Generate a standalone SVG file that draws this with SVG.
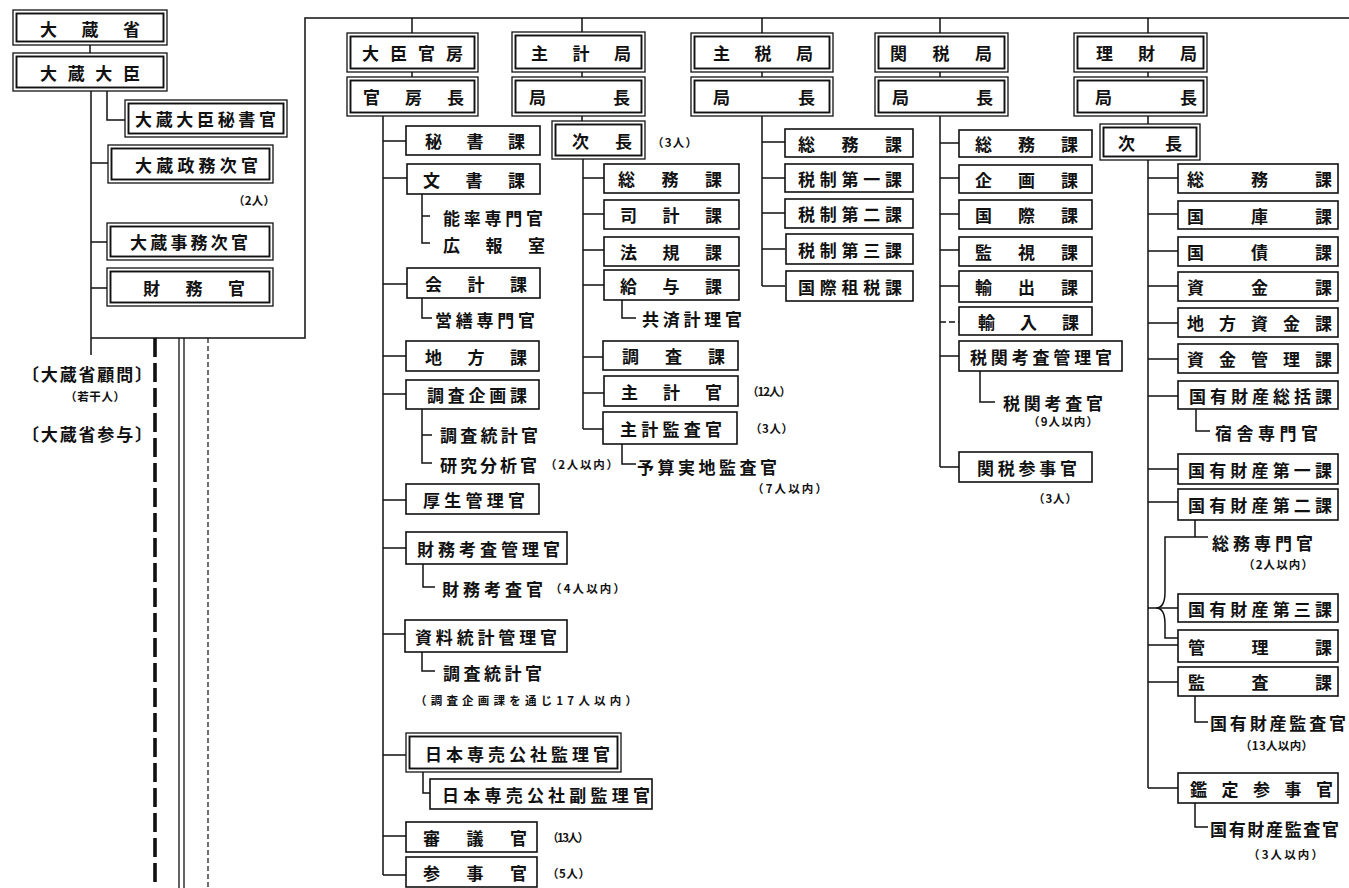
<svg xmlns="http://www.w3.org/2000/svg" width="1349" height="888" viewBox="0 0 1349 888">
<style>
rect{fill:#fff;stroke:#111}
.b{stroke-width:1.6}
.o{stroke-width:1.3}
.i{fill:none;stroke-width:1.9}
text{font-family:"Noto Sans CJK JP","Noto Sans CJK SC",sans-serif;font-weight:700;fill:#111;dominant-baseline:central;font-size:17px}
.s{font-size:11.5px}
.ln path{fill:none;stroke:#111;stroke-width:1.5}
</style>
<rect x="0" y="0" width="1349" height="888" style="fill:#fff;stroke:none"/>
<g class="ln" id="connectors">
<path d="M90 45V53M91 91V355M107 91V120H125M91 163H108M91 242H107M91 288H107M91 338H305V18H1349"/>
<path d="M412 18V33M582 18V32M762 18V33M940 18V33M1148 18V33M412 72V77M582 72V77M762 72V77M940 72V77M1148 72V77"/>
<path d="M383 116V875M383 141H406M383 178H407M383 284H407M383 356H406M383 394H406M383 500H406M383 548H406M383 634H405M383 755H406M383 836H406M383 875H406"/>
<path d="M422 194V243H430M422 216H430M422 298V318H432M422 409V463H432M422 435H432M423 564V587H435M422 652V671H435M423 772V793H430"/>
<path d="M582 116V121M583 159V429M583 178H604M583 214H604M583 250H604M583 285H604M583 357H603M583 393H604M583 429H603M622 300V318H636M622 444V464H636"/>
<path d="M762 116V286M762 142H785M762 178H785M762 213H785M762 249H785M762 286H785"/>
<path d="M940 116V467M940 143H959M940 178H959M940 214H959M940 250H959M940 286H959M940 356H959M940 467H959M980 371V402H995"/>
<path d="M940 322H959" style="stroke-dasharray:6 3"/>
<path d="M1148 116V124M1148 160V788M1148 178H1178M1148 214H1178M1148 251H1178M1148 286H1178M1148 323H1178M1148 359H1178M1148 396H1178M1148 469H1178M1148 502H1178M1148 608H1178M1148 645H1178M1148 682H1178M1148 788H1178"/>
<path d="M1196 409V431H1210M1195 520V537M1208 537H1165V592Q1165 608 1156 608Q1165 608 1165 624V638H1178M1195 696V722H1208M1195 803V827H1208"/>
<path d="M155 338V888" style="stroke-width:3.6;stroke-dasharray:19 6"/>
<path d="M179 338V888M184 338V888" style="stroke-width:1.3"/>
<path d="M208 338V888" style="stroke-width:1.2;stroke-dasharray:5 3"/>
</g>
<g id="n-okurasho"><rect class="o" x="13" y="10" width="154" height="35"/><rect class="i" x="16.5" y="13.5" width="147" height="28"/><text x="40" y="28" textLength="100" lengthAdjust="spacing">大蔵省</text></g>
<g id="n-daijin"><rect class="o" x="13" y="53" width="154" height="38"/><rect class="i" x="16.5" y="56.5" width="147" height="31"/><text x="40" y="72" textLength="100" lengthAdjust="spacing">大蔵大臣</text></g>
<g id="n-hishokan"><rect class="o" x="125" y="100" width="162" height="37"/><rect class="i" x="128.5" y="103.5" width="155" height="30"/><text x="135" y="118.5" textLength="141" lengthAdjust="spacing">大蔵大臣秘書官</text></g>
<g id="n-seimu"><rect class="o" x="108" y="145" width="165" height="38"/><rect class="i" x="111.5" y="148.5" width="158" height="31"/><text x="135" y="164" textLength="123" lengthAdjust="spacing">大蔵政務次官</text><text class="s" x="233" y="200" textLength="42" lengthAdjust="spacing">（2人）</text></g>
<g id="n-jimu"><rect class="o" x="107" y="223" width="166" height="37"/><rect class="i" x="110.5" y="226.5" width="159" height="30"/><text x="130" y="241.5" textLength="118" lengthAdjust="spacing">大蔵事務次官</text></g>
<g id="n-zaimukan"><rect class="o" x="107" y="268" width="166" height="38"/><rect class="i" x="110.5" y="271.5" width="159" height="31"/><text x="143" y="287" textLength="102" lengthAdjust="spacing">財務官</text></g>
<g id="n-komon"><text x="22" y="373" textLength="130" lengthAdjust="spacing">〔大蔵省顧問〕</text><text class="s" x="65" y="396" textLength="60" lengthAdjust="spacing">（若干人）</text></g>
<g id="n-sanyo"><text x="22" y="433" textLength="130" lengthAdjust="spacing">〔大蔵省参与〕</text></g>

<g id="n-kanbo"><rect class="o" x="347" y="33" width="131" height="39"/><rect class="i" x="350.5" y="36.5" width="124" height="32"/><text x="362" y="52.5" textLength="101" lengthAdjust="spacing">大臣官房</text></g>
<g id="n-shukei"><rect class="o" x="512" y="32" width="133" height="40"/><rect class="i" x="515.5" y="35.5" width="126" height="33"/><text x="531" y="52.5" textLength="100" lengthAdjust="spacing">主計局</text></g>
<g id="n-shuzei"><rect class="o" x="691" y="33" width="142" height="39"/><rect class="i" x="694.5" y="36.5" width="135" height="32"/><text x="713" y="52.5" textLength="100" lengthAdjust="spacing">主税局</text></g>
<g id="n-kanzei"><rect class="o" x="875" y="33" width="133" height="39"/><rect class="i" x="878.5" y="36.5" width="126" height="32"/><text x="890" y="52.5" textLength="102" lengthAdjust="spacing">関税局</text></g>
<g id="n-rizai"><rect class="o" x="1074" y="33" width="133" height="39"/><rect class="i" x="1077.5" y="36.5" width="126" height="32"/><text x="1096" y="52.5" textLength="101" lengthAdjust="spacing">理財局</text></g>

<g id="n-kanbocho"><rect class="o" x="347" y="77" width="131" height="39"/><rect class="i" x="350.5" y="80.5" width="124" height="32"/><text x="363" y="96.5" textLength="101" lengthAdjust="spacing">官房長</text></g>
<g id="n-shukei-kyokucho"><rect class="o" x="512" y="77" width="133" height="39"/><rect class="i" x="515.5" y="80.5" width="126" height="32"/><text x="529" y="96.5" textLength="101" lengthAdjust="spacing">局長</text></g>
<g id="n-shuzei-kyokucho"><rect class="o" x="691" y="77" width="142" height="39"/><rect class="i" x="694.5" y="80.5" width="135" height="32"/><text x="713" y="96.5" textLength="102" lengthAdjust="spacing">局長</text></g>
<g id="n-kanzei-kyokucho"><rect class="o" x="875" y="77" width="133" height="39"/><rect class="i" x="878.5" y="80.5" width="126" height="32"/><text x="892" y="96.5" textLength="101" lengthAdjust="spacing">局長</text></g>
<g id="n-rizai-kyokucho"><rect class="o" x="1074" y="77" width="133" height="39"/><rect class="i" x="1077.5" y="80.5" width="126" height="32"/><text x="1095" y="96.5" textLength="102" lengthAdjust="spacing">局長</text></g>
<g id="n-shukei-jicho"><rect class="o" x="552" y="121" width="93" height="38"/><rect class="i" x="555.5" y="124.5" width="86" height="31"/><text x="572" y="140" textLength="60" lengthAdjust="spacing">次長</text><text class="s" x="652" y="142" textLength="45" lengthAdjust="spacing">（3人）</text></g>
<g id="n-rizai-jicho"><rect class="o" x="1100" y="124" width="100" height="36"/><rect class="i" x="1103.5" y="127.5" width="93" height="29"/><text x="1118" y="142" textLength="64" lengthAdjust="spacing">次長</text></g>

<g id="n-hisho"><rect class="b" x="406" y="126" width="134" height="29"/><text x="425" y="140.5" textLength="100" lengthAdjust="spacing">秘書課</text></g>
<g id="n-bunsho"><rect class="b" x="407" y="164" width="133" height="30"/><text x="423" y="179" textLength="102" lengthAdjust="spacing">文書課</text></g>
<g id="n-noritsu"><text x="443" y="217" textLength="100" lengthAdjust="spacing">能率専門官</text></g>
<g id="n-koho"><text x="443" y="244" textLength="102" lengthAdjust="spacing">広報室</text></g>
<g id="n-kaikei"><rect class="b" x="407" y="268" width="133" height="30"/><text x="425" y="283" textLength="102" lengthAdjust="spacing">会計課</text></g>
<g id="n-eizen"><text x="435" y="319" textLength="100" lengthAdjust="spacing">営繕専門官</text></g>
<g id="n-chiho"><rect class="b" x="406" y="341" width="133" height="30"/><text x="425" y="356" textLength="102" lengthAdjust="spacing">地方課</text></g>
<g id="n-chosakikaku"><rect class="b" x="406" y="380" width="133" height="29"/><text x="427" y="394.5" textLength="100" lengthAdjust="spacing">調査企画課</text></g>
<g id="n-chosatokei1"><text x="440" y="434" textLength="98" lengthAdjust="spacing">調査統計官</text></g>
<g id="n-kenkyu"><text x="440" y="464" textLength="97" lengthAdjust="spacing">研究分析官</text><text class="s" x="545" y="464" textLength="73" lengthAdjust="spacing">（2人以内）</text></g>
<g id="n-kosei"><rect class="b" x="406" y="484" width="133" height="30"/><text x="423" y="499" textLength="102" lengthAdjust="spacing">厚生管理官</text></g>
<g id="n-zaimukosa-kanri"><rect class="b" x="406" y="532" width="161" height="32"/><text x="417" y="548" textLength="143" lengthAdjust="spacing">財務考査管理官</text></g>
<g id="n-zaimukosa"><text x="442" y="588" textLength="101" lengthAdjust="spacing">財務考査官</text><text class="s" x="550" y="588" textLength="75" lengthAdjust="spacing">（4人以内）</text></g>
<g id="n-shiryo"><rect class="b" x="405" y="620" width="162" height="32"/><text x="415" y="636" textLength="142" lengthAdjust="spacing">資料統計管理官</text></g>
<g id="n-chosatokei2"><text x="443" y="672" textLength="99" lengthAdjust="spacing">調査統計官</text><text class="s" x="415" y="700" textLength="222" lengthAdjust="spacing">（調査企画課を通じ17人以内）</text></g>
<g id="n-senbai"><rect class="o" x="406" y="733" width="215" height="39"/><rect class="i" x="409.5" y="736.5" width="208" height="32"/><text x="425" y="753" textLength="185" lengthAdjust="spacing">日本専売公社監理官</text></g>
<g id="n-senbai-fuku"><rect class="b" x="430" y="779" width="222" height="30"/><text x="442" y="794" textLength="208" lengthAdjust="spacing">日本専売公社副監理官</text></g>
<g id="n-shingi"><rect class="b" x="406" y="822" width="131" height="30"/><text x="423" y="837" textLength="104" lengthAdjust="spacing">審議官</text><text class="s" x="547" y="837" textLength="42" lengthAdjust="spacing">（13人）</text></g>
<g id="n-sanji"><rect class="b" x="406" y="857" width="131" height="30"/><text x="423" y="872.5" textLength="104" lengthAdjust="spacing">参事官</text><text class="s" x="547" y="873" textLength="43" lengthAdjust="spacing">（5人）</text></g>

<g id="n-sk-somu"><rect class="b" x="604" y="164" width="135" height="29"/><text x="618" y="178.5" textLength="104" lengthAdjust="spacing">総務課</text></g>
<g id="n-sk-shikei"><rect class="b" x="604" y="200" width="135" height="29"/><text x="620" y="214.5" textLength="102" lengthAdjust="spacing">司計課</text></g>
<g id="n-sk-hoki"><rect class="b" x="604" y="237" width="135" height="29"/><text x="620" y="251.5" textLength="102" lengthAdjust="spacing">法規課</text></g>
<g id="n-sk-kyuyo"><rect class="b" x="604" y="270" width="135" height="30"/><text x="620" y="285" textLength="102" lengthAdjust="spacing">給与課</text></g>
<g id="n-sk-kyosai"><text x="642" y="318" textLength="100" lengthAdjust="spacing">共済計理官</text></g>
<g id="n-sk-chosa"><rect class="b" x="603" y="341" width="135" height="29"/><text x="622" y="355.5" textLength="103" lengthAdjust="spacing">調査課</text></g>
<g id="n-sk-shukeikan"><rect class="b" x="604" y="376" width="134" height="30"/><text x="621" y="391" textLength="101" lengthAdjust="spacing">主計官</text><text class="s" x="747" y="391" textLength="44" lengthAdjust="spacing">（12人）</text></g>
<g id="n-sk-kansa"><rect class="b" x="603" y="412" width="134" height="32"/><text x="620" y="428" textLength="102" lengthAdjust="spacing">主計監査官</text><text class="s" x="750" y="428" textLength="43" lengthAdjust="spacing">（3人）</text></g>
<g id="n-sk-yosan"><text x="637" y="466" textLength="140" lengthAdjust="spacing">予算実地監査官</text><text class="s" x="752" y="488" textLength="75" lengthAdjust="spacing">（7人以内）</text></g>

<g id="n-sz-somu"><rect class="b" x="785" y="129" width="128" height="28"/><text x="798" y="143" textLength="104" lengthAdjust="spacing">総務課</text></g>
<g id="n-sz-1"><rect class="b" x="785" y="164" width="128" height="28"/><text x="798" y="178" textLength="104" lengthAdjust="spacing">税制第一課</text></g>
<g id="n-sz-2"><rect class="b" x="785" y="199" width="128" height="29"/><text x="798" y="213.5" textLength="104" lengthAdjust="spacing">税制第二課</text></g>
<g id="n-sz-3"><rect class="b" x="786" y="234" width="127" height="30"/><text x="798" y="249" textLength="104" lengthAdjust="spacing">税制第三課</text></g>
<g id="n-sz-kokusai"><rect class="b" x="786" y="271" width="127" height="30"/><text x="798" y="286" textLength="104" lengthAdjust="spacing">国際租税課</text></g>

<g id="n-kz-somu"><rect class="b" x="959" y="130" width="133" height="27"/><text x="975" y="143.5" textLength="103" lengthAdjust="spacing">総務課</text></g>
<g id="n-kz-kikaku"><rect class="b" x="959" y="165" width="133" height="28"/><text x="975" y="179" textLength="103" lengthAdjust="spacing">企画課</text></g>
<g id="n-kz-kokusai"><rect class="b" x="959" y="200" width="133" height="29"/><text x="975" y="214.5" textLength="103" lengthAdjust="spacing">国際課</text></g>
<g id="n-kz-kanshi"><rect class="b" x="959" y="237" width="133" height="29"/><text x="975" y="251.5" textLength="103" lengthAdjust="spacing">監視課</text></g>
<g id="n-kz-yushutsu"><rect class="b" x="959" y="271" width="133" height="31"/><text x="975" y="286.5" textLength="103" lengthAdjust="spacing">輸出課</text></g>
<g id="n-kz-yunyu"><rect class="b" x="959" y="307" width="133" height="28"/><text x="978" y="321" textLength="101" lengthAdjust="spacing">輸入課</text></g>
<g id="n-kz-kosakanri"><rect class="b" x="959" y="341" width="163" height="30"/><text x="970" y="356" textLength="142" lengthAdjust="spacing">税関考査管理官</text></g>
<g id="n-kz-kosa"><text x="1003" y="402" textLength="100" lengthAdjust="spacing">税関考査官</text><text class="s" x="1028" y="421" textLength="70" lengthAdjust="spacing">（9人以内）</text></g>
<g id="n-kz-sanji"><rect class="b" x="959" y="452" width="133" height="30"/><text x="977" y="467" textLength="100" lengthAdjust="spacing">関税参事官</text><text class="s" x="1033" y="498" textLength="44" lengthAdjust="spacing">（3人）</text></g>

<g id="n-rz-somu"><rect class="b" x="1178" y="164" width="160" height="29"/><text x="1187" y="178.5" textLength="145" lengthAdjust="spacing">総務課</text></g>
<g id="n-rz-kokko"><rect class="b" x="1178" y="201" width="160" height="28"/><text x="1187" y="215" textLength="145" lengthAdjust="spacing">国庫課</text></g>
<g id="n-rz-kokusai"><rect class="b" x="1178" y="237" width="160" height="29"/><text x="1187" y="251.5" textLength="145" lengthAdjust="spacing">国債課</text></g>
<g id="n-rz-shikin"><rect class="b" x="1178" y="272" width="160" height="29"/><text x="1187" y="286.5" textLength="145" lengthAdjust="spacing">資金課</text></g>
<g id="n-rz-chihoshikin"><rect class="b" x="1178" y="308" width="160" height="29"/><text x="1187" y="322.5" textLength="145" lengthAdjust="spacing">地方資金課</text></g>
<g id="n-rz-shikinkanri"><rect class="b" x="1178" y="344" width="160" height="29"/><text x="1187" y="358.5" textLength="145" lengthAdjust="spacing">資金管理課</text></g>
<g id="n-rz-sokatsu"><rect class="b" x="1178" y="381" width="160" height="28"/><text x="1189" y="395" textLength="143" lengthAdjust="spacing">国有財産総括課</text></g>
<g id="n-rz-shukusha"><text x="1215" y="432" textLength="103" lengthAdjust="spacing">宿舎専門官</text></g>
<g id="n-rz-1"><rect class="b" x="1178" y="454" width="160" height="30"/><text x="1188" y="469" textLength="144" lengthAdjust="spacing">国有財産第一課</text></g>
<g id="n-rz-2"><rect class="b" x="1178" y="489" width="160" height="31"/><text x="1188" y="504.5" textLength="144" lengthAdjust="spacing">国有財産第二課</text></g>
<g id="n-rz-somusenmon"><text x="1212" y="542" textLength="101" lengthAdjust="spacing">総務専門官</text><text class="s" x="1243" y="564" textLength="70" lengthAdjust="spacing">（2人以内）</text></g>
<g id="n-rz-3"><rect class="b" x="1178" y="594" width="160" height="28"/><text x="1188" y="608" textLength="144" lengthAdjust="spacing">国有財産第三課</text></g>
<g id="n-rz-kanri"><rect class="b" x="1178" y="630" width="160" height="32"/><text x="1188" y="646" textLength="144" lengthAdjust="spacing">管理課</text></g>
<g id="n-rz-kansa"><rect class="b" x="1178" y="667" width="160" height="29"/><text x="1188" y="681.5" textLength="144" lengthAdjust="spacing">監査課</text></g>
<g id="n-rz-kansakan1"><text x="1210" y="722" textLength="136" lengthAdjust="spacing">国有財産監査官</text><text class="s" x="1240" y="745" textLength="73" lengthAdjust="spacing">（13人以内）</text></g>
<g id="n-rz-kantei"><rect class="b" x="1178" y="773" width="160" height="30"/><text x="1190" y="788" textLength="143" lengthAdjust="spacing">鑑定参事官</text></g>
<g id="n-rz-kansakan2"><text x="1210" y="828" textLength="129" lengthAdjust="spacing">国有財産監査官</text><text class="s" x="1248" y="854" textLength="75" lengthAdjust="spacing">（3人以内）</text></g>
</svg>
